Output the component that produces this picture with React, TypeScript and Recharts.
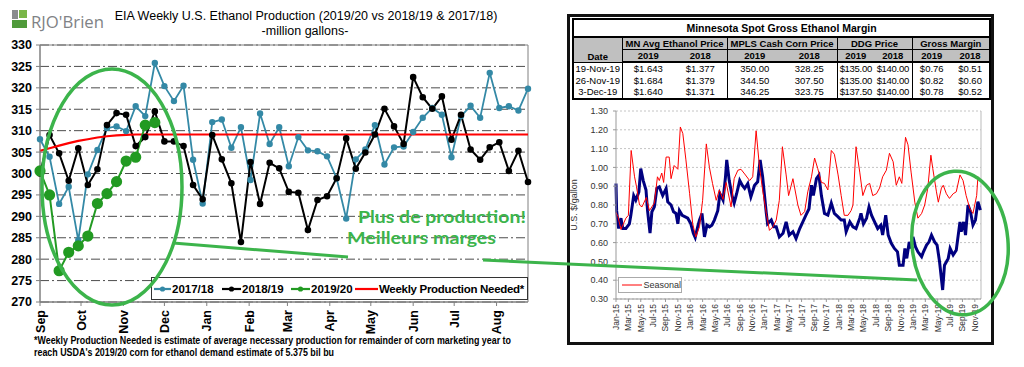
import React from 'react';
import { LineChart, Line, XAxis, YAxis, CartesianGrid, ReferenceArea, ReferenceLine } from 'recharts';

const FONT = '"Liberation Sans", Arial, sans-serif';

// ---- EIA weekly ethanol production (million gallons), week 0 = start of Sep ----
const monthNames = ['Sep', 'Oct', 'Nov', 'Dec', 'Jan', 'Feb', 'Mar', 'Apr', 'May', 'Jun', 'Jul', 'Aug'];
const monthStartDays = [0, 30, 61, 91, 122, 153, 181, 212, 242, 273, 303, 334];
const prodTicks = [270, 275, 280, 285, 290, 295, 300, 305, 310, 315, 320, 325, 330];

const prod1718 = [
  308.0, 303.9, 292.9, 296.9, 284.4, 299.8, 305.5, 310.6, 311.0, 309.9, 315.7, 313.4, 325.8,
  320.4, 316.9, 320.5, 303.2, 293.0, 312.0, 312.6, 306.0, 310.8, 298.5, 314.0, 306.9, 310.8,
  301.7, 308.5, 305.4, 305.2, 304.0, 298.9, 289.5, 303.3, 305.6, 311.3, 302.1, 306.1, 306.3,
  309.7, 313.0, 315.3, 313.7, 303.8, 313.4, 315.8, 313.0, 323.5, 315.3, 315.7, 314.7, 319.8,
];
const prod1819 = [
  300.0, 309.0, 304.7, 298.3, 305.9, 297.3, 301.0, 311.3, 314.1, 313.7, 306.4, 308.5, 314.5,
  307.5, 307.5, 306.4, 297.3, 294.0, 309.0, 303.3, 297.7, 284.0, 302.7, 292.9, 302.5, 301.2,
  295.7, 295.5, 286.8, 293.8, 294.7, 298.9, 308.2, 301.1, 304.9, 309.1, 315.1, 311.0, 306.9,
  322.5, 317.8, 315.1, 318.0, 307.9, 313.7, 305.6, 303.2, 306.1, 307.3, 300.6, 305.3, 298.0,
];
const prod1920 = [300.6, 295.0, 277.3, 281.6, 283.1, 285.4, 293.0, 295.3, 298.1, 302.9, 303.8, 311.3, 311.9];
const neededWeekly = [
  305.3, 305.9, 306.5, 307.1, 307.6, 308.0, 308.4, 308.7, 308.9, 309.0, 309.1, 309.1, 309.1,
  309.1, 309.1, 309.1, 309.1, 309.1, 309.1, 309.1, 309.1, 309.1, 309.1, 309.1, 309.1, 309.1,
  309.1, 309.1, 309.1, 309.1, 309.1, 309.1, 309.1, 309.1, 309.1, 309.1, 309.1, 309.1, 309.1,
  309.1, 309.1, 309.1, 309.1, 309.1, 309.1, 309.1, 309.1, 309.1, 309.1, 309.1, 309.1, 309.1,
];

// ---- Minnesota gross margin ($/gal), month 0 = Jan 2015 ----
const dateLabels = [
  'Jan-15', 'Mar-15', 'May-15', 'Jul-15', 'Sep-15', 'Nov-15',
  'Jan-16', 'Mar-16', 'May-16', 'Jul-16', 'Sep-16', 'Nov-16',
  'Jan-17', 'Mar-17', 'May-17', 'Jul-17', 'Sep-17', 'Nov-17',
  'Jan-18', 'Mar-18', 'May-18', 'Jul-18', 'Sep-18', 'Nov-18',
  'Jan-19', 'Mar-19', 'May-19', 'Jul-19', 'Sep-19', 'Nov-19',
];
const dateTickMonths = [0, 2, 4, 6, 8, 10, 12, 14, 16, 18, 20, 22, 24, 26, 28, 30, 32, 34, 36, 38, 40, 42, 44, 46, 48, 50, 52, 54, 56, 58];
const marginTicks = [0.3, 0.4, 0.5, 0.6, 0.7, 0.8, 0.9, 1.0, 1.1, 1.2, 1.3];

const seasonalMonths = [
  0, 0.3, 0.8, 1.2, 1.6, 2.0, 2.45, 3.0, 3.3, 3.8, 4.2, 4.9, 5.4, 6.2, 6.7, 7.0, 7.4, 7.7, 8.1, 8.6, 8.9,
  9.4, 10.0, 10.4, 10.8, 11.3, 11.9, 12.4, 12.9, 13.5, 14.0, 14.6, 15.1, 15.6, 16.2, 16.7, 17.3, 17.8,
  18.6, 19.1, 19.7, 20.2, 20.8, 21.6, 22.1, 22.65, 23.2, 23.7, 24.3, 24.8, 25.4, 25.9, 26.4, 26.9, 27.5,
  27.9, 28.6, 29.4, 29.9, 30.5, 31.0, 31.6, 32.1, 32.6, 33.2, 33.7, 34.25, 34.8, 35.3, 35.9, 36.4, 36.9,
  37.5, 38.0, 38.3, 38.8, 39.4, 39.9, 40.5, 41.0, 41.5, 42.1, 42.6, 43.1, 43.7, 44.2, 44.8, 45.3, 45.8,
  46.2, 46.8, 47.2, 47.7, 48.3, 48.8, 49.4, 49.9, 50.4, 50.9, 51.2, 51.8, 52.1, 52.6, 52.9, 53.4, 53.9,
  54.5, 55.0, 55.6, 56.1, 56.6, 57.2, 57.7, 58.3, 58.5, 58.9,
];
const seasonalValues = [
  0.76, 0.74, 0.67, 0.70, 0.73, 0.745, 1.09, 0.95, 0.90, 0.80, 0.79, 0.84, 0.77, 0.81, 0.95, 0.93, 0.97, 0.92, 1.055, 1.055, 0.94,
  1.01, 0.99, 1.215, 1.18, 1.04, 0.86, 0.70, 0.63, 0.685, 0.825, 1.125, 1.00, 0.915, 0.825, 0.88, 0.83, 0.92,
  0.79, 0.94, 0.985, 0.99, 0.965, 0.93, 0.95, 1.195, 1.00, 0.88, 0.755, 0.665, 0.685, 0.72, 0.825, 1.11, 0.96,
  0.85, 0.94, 0.80, 0.745, 0.765, 0.87, 0.95, 1.05, 0.995, 0.92, 0.915, 0.88, 1.09, 1.07, 0.96, 0.85, 0.745,
  0.745, 0.77, 0.80, 1.11, 0.975, 0.85, 0.905, 0.915, 0.85, 0.86, 0.89, 0.95, 0.985, 1.075, 1.03, 0.905, 0.95,
  0.915, 1.16, 1.12, 0.975, 0.815, 0.73, 0.755, 0.80, 0.89, 1.065, 0.995, 0.87, 0.815, 0.89, 0.905, 0.86, 0.835,
  0.86, 0.87, 0.96, 0.93, 0.85, 0.78, 0.755, 0.85, 0.95, 0.93,
];

const marginMonths = [
  0, 0.1, 0.43, 0.8, 1.1, 1.6, 2.16, 2.4, 2.86, 3.2, 3.7, 4.0, 4.4, 4.85, 5.1, 5.5, 5.8, 6.2, 6.6, 7.0,
  7.55, 8.1, 8.36, 8.9, 9.3, 9.7, 10.0, 10.25, 10.7, 11.2, 11.6, 12.1, 12.5, 12.8, 13.2, 13.5, 13.9, 14.3,
  14.7, 15.1, 15.5, 15.9, 16.45, 16.8, 17.3, 17.7, 17.9, 18.3, 18.8, 19.1, 19.5, 20.0, 20.4, 20.8, 21.3,
  21.8, 22.4, 22.9, 23.3, 23.7, 24.3, 24.5, 25.1, 25.5, 25.9, 26.4, 27.0, 27.5, 28.0, 28.6, 29.1, 29.7,
  30.2, 30.7, 31.2, 31.6, 31.9, 32.4, 32.8, 33.2, 33.7, 34.25, 34.8, 35.3, 35.9, 36.4, 36.9, 37.2, 37.8,
  38.3, 38.8, 39.4, 39.6, 40.0, 40.5, 40.9, 41.3, 41.8, 42.3, 42.8, 43.1, 43.6, 44.0, 44.5, 45.0, 45.5,
  45.8, 46.4, 46.7, 47.0, 47.4, 47.7, 48.0, 48.4, 48.8, 49.4, 49.7, 50.2, 50.6, 51.0, 51.5, 51.9, 52.3,
  52.8, 53.1, 53.7, 54.0, 54.5, 55.0, 55.6, 55.8, 56.2, 56.5, 56.9, 57.3, 57.7, 58.1, 58.5, 58.9,
];
const marginValues = [
  0.914, 0.77, 0.675, 0.73, 0.675, 0.675, 0.70, 0.745, 0.85, 0.826, 0.87, 0.994, 0.93, 0.88, 0.77, 0.65, 0.764, 0.79, 0.888, 0.896,
  0.85, 0.888, 0.817, 0.80, 0.764, 0.755, 0.70, 0.77, 0.745, 0.737, 0.73, 0.70, 0.65, 0.627, 0.684, 0.72, 0.755, 0.63,
  0.693, 0.684, 0.693, 0.72, 0.77, 0.86, 0.826, 0.95, 1.04, 0.93, 0.843, 0.81, 0.86, 0.93, 0.905, 0.888, 0.914,
  0.843, 0.905, 0.923, 1.04, 0.95, 0.755, 0.70, 0.72, 0.684, 0.684, 0.63, 0.65, 0.71, 0.64, 0.658, 0.622, 0.675,
  0.71, 0.746, 0.78, 0.905, 0.85, 0.94, 0.958, 0.85, 0.755, 0.746, 0.81, 0.755, 0.737, 0.72, 0.72, 0.658, 0.71,
  0.684, 0.675, 0.73, 0.755, 0.70, 0.73, 0.79, 0.746, 0.71, 0.675, 0.693, 0.64, 0.746, 0.64, 0.596, 0.569, 0.551,
  0.48, 0.48, 0.569, 0.516, 0.604, 0.569, 0.63, 0.578, 0.551, 0.525, 0.551, 0.587, 0.604, 0.64, 0.604, 0.587, 0.498,
  0.348, 0.48, 0.516, 0.569, 0.534, 0.56, 0.71, 0.658, 0.71, 0.64, 0.80, 0.764, 0.693, 0.72, 0.817, 0.773,
];

// ---- Minnesota spot gross ethanol margin table ----
const tableDates = ['19-Nov-19', '26-Nov-19', '3-Dec-19'];
const ethanol2019 = ['$1.643', '$1.684', '$1.640'];
const ethanol2018 = ['$1.377', '$1.379', '$1.371'];
const corn2019 = ['350.00', '344.50', '346.25'];
const corn2018 = ['328.25', '307.50', '323.75'];
const ddg2019 = ['$135.00', '$135.00', '$137.50'];
const ddg2018 = ['$140.00', '$140.00', '$140.00'];
const gross2019 = ['$0.76', '$0.82', '$0.78'];
const gross2018 = ['$0.51', '$0.60', '$0.52'];

const TEAL = '#3489a6';
const GREEN = '#229a22';
const NOTE_GREEN = '#3cb44b';

const monthWeeks = monthStartDays.map((d) => d / 7);
const prodData = prod1718.map((v, i) => ({
  w: i,
  a: v,
  b: prod1819[i],
  c: i < prod1920.length ? prod1920[i] : undefined,
  d: neededWeekly[i],
}));
const seasonalData = seasonalMonths.map((m, i) => ({ m, v: seasonalValues[i] }));
const marginData = marginMonths.map((m, i) => ({ m, v: marginValues[i] }));

const MonthTick = (props: any) => {
  const { x, y, payload } = props;
  const idx = monthWeeks.findIndex((w) => Math.abs(w - payload.value) < 0.01);
  return (
    <text x={x} y={y} transform={`rotate(-90 ${x} ${y})`} textAnchor="end" dy="0.36em"
      fontFamily={FONT} fontWeight="bold" fontSize={12.5} fill="#000">
      {monthNames[idx]}
    </text>
  );
};

const DateTick = (props: any) => {
  const { x, y, payload } = props;
  const idx = Math.round(payload.value / 2);
  return (
    <text x={x} y={y} transform={`rotate(-90 ${x} ${y})`} textAnchor="end" dy="0.35em"
      fontFamily={FONT} fontSize={8.5} fill="#333">
      {dateLabels[idx]}
    </text>
  );
};

const LegendItem = ({ left, color, dot, label, width, spacing = 0 }: any) => (
  <div style={{ position: 'absolute', left, top: 0, height: 21, display: 'flex', alignItems: 'center', whiteSpace: 'nowrap' }}>
    <svg width={width} height={10}>
      <line x1={0} y1={5} x2={width} y2={5} stroke={color} strokeWidth={2.2} />
      {dot ? <circle cx={width / 2} cy={5} r={2.6} fill={color} /> : null}
    </svg>
    <span style={{ fontWeight: 'bold', fontSize: 11.5, marginLeft: 1, letterSpacing: spacing }}>{label}</span>
  </div>
);

const th: React.CSSProperties = { background: '#c0c0c0', border: '1px solid #000', fontWeight: 'bold', padding: 0, textAlign: 'center', height: 11, whiteSpace: 'nowrap', overflow: 'hidden' };
const td: React.CSSProperties = { padding: 0, textAlign: 'center', height: 11.5, whiteSpace: 'nowrap' };
const groupEdge = '1.5px solid #000';

export default function App() {
  return (
    <div style={{ position: 'absolute', left: 0, top: 0, width: 1024, height: 367, background: '#fff', overflow: 'hidden', fontFamily: FONT }}>
      {/* ---------- left: EIA weekly production ---------- */}
      <div style={{ position: 'absolute', left: 0, top: 0 }}>
        <LineChart width={540} height={340} data={prodData} margin={{ top: 45, right: 12, left: 0, bottom: 8 }}>
          <CartesianGrid vertical={false} stroke="#4d4d4d" strokeDasharray="9 3 2 3" />
          <XAxis type="number" dataKey="w" domain={[0, 51]} ticks={monthWeeks} interval={0} height={30}
            tickSize={4} tickMargin={4} tick={(p: any) => <MonthTick {...p} />}
            axisLine={{ stroke: '#808080' }} tickLine={{ stroke: '#808080' }} />
          <YAxis domain={[270, 330]} ticks={prodTicks} interval={0} width={40} tickSize={4} tickMargin={4}
            tick={{ fill: '#000', fontSize: 12.5, fontWeight: 'bold', fontFamily: FONT }}
            axisLine={{ stroke: '#808080' }} tickLine={{ stroke: '#808080' }} />
          <ReferenceArea x1={0} x2={51} y1={270} y2={330} fill="none" stroke="#808080" strokeWidth={1} />
          <Line dataKey="a" stroke={TEAL} strokeWidth={1.8} dot={{ r: 2.3, fill: TEAL, stroke: TEAL }} isAnimationActive={false} />
          <Line dataKey="b" stroke="#000" strokeWidth={2} dot={{ r: 2.3, fill: '#000', stroke: '#000' }} isAnimationActive={false} />
          <Line dataKey="d" stroke="#ff0000" strokeWidth={2.2} dot={false} isAnimationActive={false} />
          <Line dataKey="c" stroke={GREEN} strokeWidth={2} dot={{ r: 4.6, fill: GREEN, stroke: GREEN }} isAnimationActive={false} />
        </LineChart>
      </div>

      <div style={{ position: 'absolute', left: 151, top: 277, width: 375, height: 21, border: '1px solid #333', background: '#fff', overflow: 'hidden' }}>
        <LegendItem left={2} color={TEAL} dot width={17} label="2017/18" />
        <LegendItem left={70} color="#000" dot width={19} label="2018/19" />
        <LegendItem left={139} color={GREEN} dot width={19} label="2019/20" />
        <LegendItem left={203} color="#ff0000" width={23} spacing={-0.3} label="Weekly Production Needed*" />
      </div>

      {/* ---------- right: Minnesota margin panel ---------- */}
      <div style={{ position: 'absolute', left: 567, top: 14, width: 427, height: 331, border: '3px solid #111', boxSizing: 'border-box' }} />

      <table style={{ position: 'absolute', left: 572, top: 18, width: 417, borderCollapse: 'collapse', tableLayout: 'fixed', fontSize: 9.5, border: '2px solid #000' }}>
        <colgroup>
          {[49, 52, 53, 55, 55, 37, 38, 39, 39].map((w, i) => <col key={i} style={{ width: w }} />)}
        </colgroup>
        <tbody>
          <tr>
            <td colSpan={9} style={{ textAlign: 'center', fontWeight: 'bold', fontSize: 10.5, height: 16, padding: 0, borderBottom: '2px solid #000' }}>
              Minnesota Spot Gross Ethanol Margin
            </td>
          </tr>
          <tr>
            <td rowSpan={2} style={{ ...th, verticalAlign: 'bottom' }}>Date</td>
            <td colSpan={2} style={th}>MN Avg Ethanol Price</td>
            <td colSpan={2} style={th}>MPLS Cash Corn Price</td>
            <td colSpan={2} style={th}>DDG Price</td>
            <td colSpan={2} style={th}>Gross Margin</td>
          </tr>
          <tr>
            {['2019', '2018', '2019', '2018', '2019', '2018', '2019', '2018'].map((y, i) => (
              <td key={i} style={{ ...th, borderLeft: i % 2 === 1 ? 'none' : th.border, borderRight: i % 2 === 0 ? 'none' : th.border, borderBottom: '2px solid #000' }}>{y}</td>
            ))}
          </tr>
          {tableDates.map((d, r) => (
            <tr key={d}>
              <td style={{ ...td, borderRight: groupEdge }}>{d}</td>
              <td style={td}>{ethanol2019[r]}</td>
              <td style={{ ...td, borderRight: groupEdge }}>{ethanol2018[r]}</td>
              <td style={td}>{corn2019[r]}</td>
              <td style={{ ...td, borderRight: groupEdge }}>{corn2018[r]}</td>
              <td style={{ ...td, letterSpacing: -0.3 }}>{ddg2019[r]}</td>
              <td style={{ ...td, borderRight: groupEdge, letterSpacing: -0.3 }}>{ddg2018[r]}</td>
              <td style={td}>{gross2019[r]}</td>
              <td style={td}>{gross2018[r]}</td>
            </tr>
          ))}
        </tbody>
      </table>

      <div style={{ position: 'absolute', left: 560, top: 95 }}>
        <LineChart width={440} height={245} margin={{ top: 16, right: 19, left: 0, bottom: 3 }}>
          <CartesianGrid vertical={false} stroke="#c4c4c4" strokeDasharray="2 2" />
          <XAxis type="number" dataKey="m" domain={[0, 59]} ticks={dateTickMonths} interval={0} height={38}
            tickSize={3} tickMargin={2} tick={(p: any) => <DateTick {...p} />}
            axisLine={{ stroke: '#999' }} tickLine={{ stroke: '#999' }} />
          <YAxis domain={[0.3, 1.3]} ticks={marginTicks} interval={0} width={56} tickSize={3} tickMargin={5}
            tickFormatter={(v: number) => v.toFixed(2)}
            tick={{ fill: '#333', fontSize: 9, fontFamily: FONT }}
            axisLine={{ stroke: '#999' }} tickLine={{ stroke: '#999' }}
            label={{ value: 'U.S. $/gallon', angle: -90, position: 'insideLeft', offset: 14, style: { fontSize: 9, fill: '#333', fontFamily: FONT, textAnchor: 'middle' } }} />
          <ReferenceLine x={59} stroke="#bbb" />
          <Line data={marginData} dataKey="v" stroke="#000080" strokeWidth={3} dot={false} isAnimationActive={false} />
          <Line data={seasonalData} dataKey="v" stroke="#ff0000" strokeWidth={1} dot={false} isAnimationActive={false} />
        </LineChart>
      </div>

      <div style={{ position: 'absolute', left: 618, top: 277, width: 62, height: 14, border: '1px solid #aaa', background: '#fff', display: 'flex', alignItems: 'center' }}>
        <svg width={22} height={6} style={{ marginLeft: 3 }}>
          <line x1={0} y1={3} x2={20} y2={3} stroke="#ff0000" strokeWidth={1} />
        </svg>
        <span style={{ fontSize: 9, color: '#333' }}>Seasonal</span>
      </div>

      {/* ---------- titles, logo, footnote and annotations ---------- */}
      <svg width={1024} height={367} style={{ position: 'absolute', left: 0, top: 0, pointerEvents: 'none' }}>
        <rect x={12} y={10} width={6} height={9} fill="#8a8c8e" />
        <rect x={19} y={10} width={8} height={8} fill="#7ab648" />
        <rect x={12} y={20} width={15} height={8} fill="#4f9a3a" />
        <text x={31} y={28} fontSize={17} fill="#808285" fontFamily='"Open Sans", sans-serif' textLength={73} lengthAdjust="spacingAndGlyphs">RJO'Brien</text>

        <text x={306} y={20} textAnchor="middle" fontSize={12.5} fontFamily={FONT} fill="#000">
          EIA Weekly U.S. Ethanol Production (2019/20 vs 2018/19 &amp; 2017/18)
        </text>
        <text x={305} y={35} textAnchor="middle" fontSize={12.5} fontFamily={FONT} fill="#000">-million  gallons-</text>

        <text x={34} y={344} fontSize={10.5} fontWeight="bold" fontFamily='"Liberation Sans Narrow", "Liberation Sans", Arial' fill="#000" textLength={477} lengthAdjust="spacingAndGlyphs">
          *Weekly Production Needed is estimate of average necessary production for remainder of corn marketing year to
        </text>
        <text x={34} y={356} fontSize={10.5} fontWeight="bold" fontFamily='"Liberation Sans Narrow", "Liberation Sans", Arial' fill="#000" textLength={300} lengthAdjust="spacingAndGlyphs">
          reach USDA's 2019/20 corn for ethanol demand estimate of 5.375 bil bu
        </text>

        <ellipse cx={112} cy={187} rx={70} ry={118} fill="none" stroke={NOTE_GREEN} strokeWidth={3.5} />
        <line x1={173} y1={243} x2={348} y2={257} stroke={NOTE_GREEN} strokeWidth={3} />
        <line x1={483} y1={260} x2={917} y2={280} stroke={NOTE_GREEN} strokeWidth={3} />
        <ellipse cx={960} cy={243} rx={48} ry={72} fill="none" stroke={NOTE_GREEN} strokeWidth={3.5} transform="rotate(-5 960 243)" />

        <text x={358} y={223} fontSize={17} fontWeight="bold" fontFamily='Lato, "Open Sans", sans-serif' fill={NOTE_GREEN} textLength={168} lengthAdjust="spacingAndGlyphs">Plus de production!</text>
        <text x={347} y={244} fontSize={17} fontWeight="bold" fontFamily='Lato, "Open Sans", sans-serif' fill={NOTE_GREEN} textLength={149} lengthAdjust="spacingAndGlyphs">Meilleurs marges</text>
      </svg>
    </div>
  );
}
